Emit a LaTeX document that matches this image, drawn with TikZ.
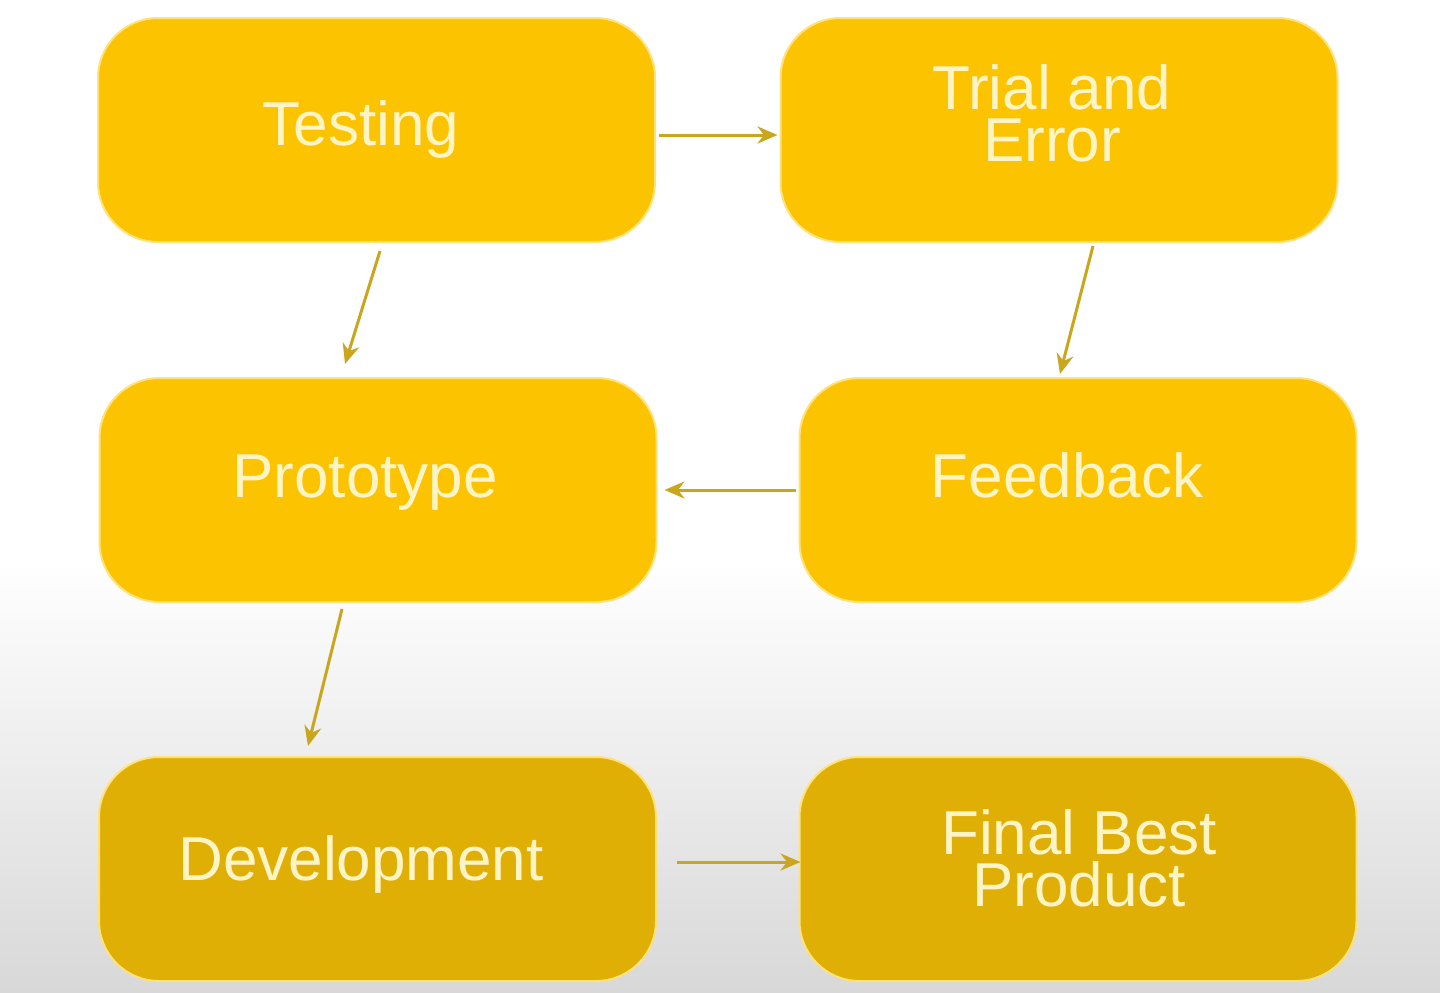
\documentclass[tikz,border=0pt]{standalone}
\usepackage{fontspec}
\setmainfont{Liberation Sans}
\usetikzlibrary{arrows.meta,calc}
\definecolor{boxtop}{HTML}{FCC300}
\definecolor{boxbot}{HTML}{DFAF06}
\definecolor{boxline}{HTML}{FFE27A}
\definecolor{txt}{HTML}{FFF4C6}
\definecolor{arrcol}{HTML}{C9A61E}
\definecolor{bggray}{HTML}{D8D8D8}
\tikzset{
  stagebox/.style={draw=boxline, line width=2pt, fill=boxtop, rounded corners=60pt,
    minimum width=557pt, minimum height=224pt, inner sep=0pt},
  lowbox/.style={stagebox, fill=boxbot},
  stagetext/.style={text=txt, font=\fontsize{62}{52}\selectfont, align=center, inner sep=0pt},
  arr/.style={draw=arrcol, line width=3pt, -{Stealth[length=20pt,width=17pt]}}
}
\begin{document}
\begin{tikzpicture}[x=1pt,y=-1pt]
\useasboundingbox (0,0) rectangle (1440,993);
\fill[white] (0,0) rectangle (1440,993);
\shade[top color=white, bottom color=bggray] (0,560) rectangle (1440,993);

\node[stagebox] (testing) at (376.5,130) {};
\node[stagebox] (trial) at (1059,130) {};
\node[stagebox] (proto) at (378,490) {};
\node[stagebox] (feedback) at (1078,490) {};
\node[lowbox] (dev) at (377.5,869) {};
\node[lowbox] (final) at (1078,869) {};

\node[stagetext, anchor=base] (ttesting) at (361,145) {Testing};
\node[stagetext, anchor=base] (ttrial) at (1052,161) {Trial and\\Error};
\node[stagetext, anchor=base] (tproto) at (365,497) {Prototype};
\node[stagetext, anchor=base] (tfeedback) at (1067,497) {Feedback};
\node[stagetext, anchor=base] (tdev) at (361,880) {Development};
\node[stagetext, anchor=base] (tfinal) at (1079,906) {Final Best\\Product};

\draw[arr] ($(testing.east)+(3,5)$) -- ($(trial.west)+(-2,5)$);
\draw[arr] ($(testing.south)+(3.5,8)$) -- ($(proto.north)+(-33,-13)$);
\draw[arr] ($(trial.south)+(34,3)$) -- ($(feedback.north)+(-18,-3)$);
\draw[arr] ($(feedback.west)+(-3,0)$) -- ($(proto.east)+(7,0)$);
\draw[arr] ($(proto.south)+(-36,6)$) -- ($(dev.north)+(-69.5,-10)$);
\draw[arr] ($(dev.east)+(20,-7)$) -- ($(final.west)+(2,-7)$);
\end{tikzpicture}
\end{document}
